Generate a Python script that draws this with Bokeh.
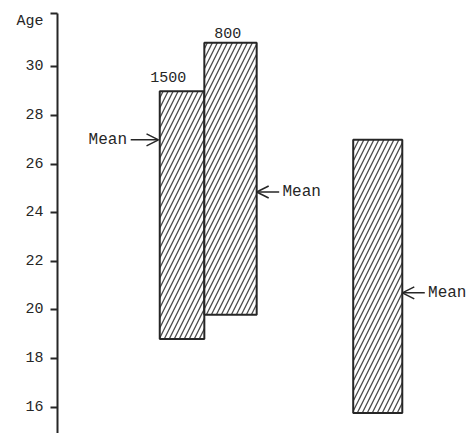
from bokeh.plotting import figure
from bokeh.models import (Range1d, FixedTicker, Label, Arrow, OpenHead, ColumnDataSource,
                          LinearAxis)
from bokeh.embed import file_html
from bokeh.resources import INLINE

# ---- data ----
group_labels = ["1500", "800", ""]
age_low = [18.8, 19.8, 15.75]
age_high = [29.0, 31.0, 27.0]
age_mean = [27.0, 24.85, 20.7]
y_ticks = [16, 18, 20, 22, 24, 26, 28, 30]
y_title = "Age"

# ---- layout (x positions of the bars on an arbitrary 0..10 scale) ----
bar_left = [2.50, 3.59, 7.23]
bar_right = [3.59, 4.87, 8.43]
mean_side = ["left", "right", "right"]

Y0, Y1 = 14.91, 32.20
TITLE_Y = 31.87
p = figure(width=466, height=433, output_backend="svg", toolbar_location=None,
           x_range=Range1d(0, 10), y_range=Range1d(Y0, Y1), x_axis_type=None,
           min_border_left=57, min_border_right=0, min_border_top=13, min_border_bottom=0)
p.outline_line_color = None
p.grid.visible = False
p.background_fill_color = "white"

ink = "#262626"

src = ColumnDataSource(dict(left=bar_left, right=bar_right, bottom=age_low, top=age_high))
p.quad(left="left", right="right", bottom="bottom", top="top", source=src,
       fill_color="white", line_color=ink, line_width=2,
       hatch_pattern="/", hatch_color="#4a4a4a", hatch_scale=10, hatch_weight=1.3)

# inner y axis: axis line and tick marks (top tick forms the bracket)
ax = p.yaxis[0]
ax.ticker = FixedTicker(ticks=y_ticks + [Y1])
ax.major_label_overrides = {t: "" for t in y_ticks + [Y1]}
ax.axis_line_width = 2
ax.axis_line_color = ink
ax.major_tick_line_width = 2
ax.major_tick_line_color = ink
ax.major_tick_out = 7
ax.major_tick_in = 0
ax.minor_tick_out = 0
ax.minor_tick_in = 0
ax.major_label_standoff = 0

# outer y axis: the labels, with the "Age" title at the top
ax2 = LinearAxis(ticker=FixedTicker(ticks=y_ticks + [TITLE_Y]),
                 major_label_overrides={TITLE_Y: y_title},
                 axis_line_color=None, major_tick_line_color=None,
                 minor_tick_line_color=None, major_tick_out=0, major_tick_in=0,
                 major_label_standoff=7,
                 major_label_text_font="Liberation Mono",
                 major_label_text_font_size="15px",
                 major_label_text_color=ink)
p.add_layout(ax2, "left")

# group size labels over bars
lx = [2.71, 4.16]
ly = [29.58, 31.39]
for i in range(2):
    p.add_layout(Label(x=lx[i], y=ly[i], text=group_labels[i], text_align="center",
                       text_baseline="middle", text_font="Liberation Mono",
                       text_font_size="15px", text_color=ink))

# mean arrows
for i in range(3):
    if mean_side[i] == "left":
        head = bar_left[i] - 0.03
        tail = head - 0.68
        tx, align = tail - 0.09, "right"
    else:
        head = bar_right[i] + 0.0
        tail = head + 0.55
        tx, align = tail + 0.08, "left"
    p.add_layout(Arrow(x_start=tail, y_start=age_mean[i], x_end=head, y_end=age_mean[i],
                       line_color=ink, line_width=1.5,
                       end=OpenHead(size=12, line_color=ink, line_width=1.5)))
    p.add_layout(Label(x=tx, y=age_mean[i], text="Mean", text_align=align,
                       text_baseline="middle", text_font="Liberation Mono",
                       text_font_size="16px", text_color=ink))

open("out.html", "w").write(file_html(p, INLINE))
